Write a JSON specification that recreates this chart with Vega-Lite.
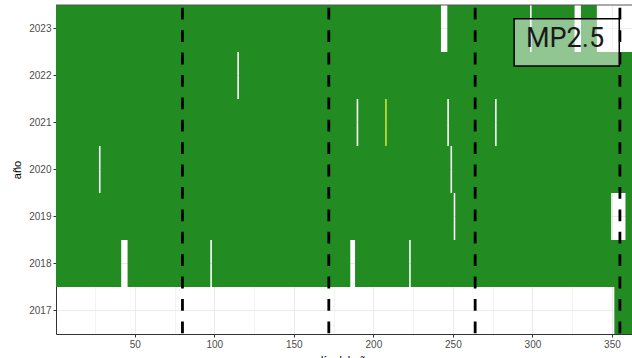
{
  "$schema": "https://vega.github.io/schema/vega-lite/v6.json",
  "autosize": {"type": "none"},
  "width": 576,
  "height": 329,
  "padding": {"left": 56, "top": 5, "right": 0, "bottom": 24},
  "background": "white",
  "config": {
    "view": {"stroke": null},
    "font": "Liberation Sans",
    "axis": {
      "labelColor": "#4d4d4d",
      "labelFontSize": 10,
      "labelFont": "Liberation Sans",
      "tickColor": "#333333",
      "tickSize": 3,
      "domainColor": "#333333",
      "gridColor": "#ebebeb",
      "titleColor": "#000000",
      "titleFontSize": 11,
      "titleFontWeight": "normal",
      "titleFont": "Liberation Sans",
      "zindex": 0
    }
  },
  "datasets": {
    "tramos": [
      {"anio": 2017, "desde": 351.5, "hasta": 365.5, "estado": "completo"},
      {"anio": 2018, "desde": 0.5, "hasta": 41.5, "estado": "completo"},
      {"anio": 2018, "desde": 45.5, "hasta": 97.5, "estado": "completo"},
      {"anio": 2018, "desde": 98.5, "hasta": 185.5, "estado": "completo"},
      {"anio": 2018, "desde": 188.5, "hasta": 222.5, "estado": "completo"},
      {"anio": 2018, "desde": 223.5, "hasta": 365.5, "estado": "completo"},
      {"anio": 2019, "desde": 0.5, "hasta": 250.5, "estado": "completo"},
      {"anio": 2019, "desde": 251.5, "hasta": 349.5, "estado": "completo"},
      {"anio": 2019, "desde": 358.5, "hasta": 365.5, "estado": "completo"},
      {"anio": 2020, "desde": 0.5, "hasta": 27.5, "estado": "completo"},
      {"anio": 2020, "desde": 28.5, "hasta": 248.5, "estado": "completo"},
      {"anio": 2020, "desde": 249.5, "hasta": 366.5, "estado": "completo"},
      {"anio": 2021, "desde": 0.5, "hasta": 189.5, "estado": "completo"},
      {"anio": 2021, "desde": 190.5, "hasta": 207.5, "estado": "completo"},
      {"anio": 2021, "desde": 207.5, "hasta": 208.5, "estado": "parcial"},
      {"anio": 2021, "desde": 208.5, "hasta": 246.5, "estado": "completo"},
      {"anio": 2021, "desde": 247.5, "hasta": 276.5, "estado": "completo"},
      {"anio": 2021, "desde": 277.5, "hasta": 365.5, "estado": "completo"},
      {"anio": 2022, "desde": 0.5, "hasta": 114.5, "estado": "completo"},
      {"anio": 2022, "desde": 115.5, "hasta": 365.5, "estado": "completo"},
      {"anio": 2023, "desde": 0.5, "hasta": 242.5, "estado": "completo"},
      {"anio": 2023, "desde": 246.5, "hasta": 298.5, "estado": "completo"},
      {"anio": 2023, "desde": 299.5, "hasta": 326.5, "estado": "completo"},
      {"anio": 2023, "desde": 330.5, "hasta": 340.5, "estado": "completo"}
    ],
    "estaciones": [
      {"dia": 80},
      {"dia": 172},
      {"dia": 264},
      {"dia": 355}
    ],
    "etiqueta": [
      {"texto": "MP2.5"}
    ]
  },
  "layer": [
    {
      "data": {"name": "tramos"},
      "mark": {"type": "rect", "clip": true},
      "encoding": {
        "x": {
          "field": "desde",
          "type": "quantitative",
          "scale": {"domain": [0.5, 362.6], "nice": false, "zero": false},
          "axis": {
            "title": "día del año",
            "values": [25, 50, 75, 100, 125, 150, 175, 200, 225, 250, 275, 300, 325, 350],
            "labelExpr": "datum.value % 50 === 0 ? datum.label : ''",
            "tickOpacity": {"condition": {"test": "datum.value % 50 !== 0", "value": 0}, "value": 1},
            "gridWidth": {"condition": {"test": "datum.value % 50 !== 0", "value": 0.6}, "value": 1.1},
            "grid": true,
            "domain": true,
            "labelPadding": 2,
            "titlePadding": 5,
            "zindex": 0
          }
        },
        "x2": {"field": "hasta"},
        "y": {
          "field": "anio",
          "type": "ordinal",
          "sort": "descending",
          "scale": {"paddingInner": 0, "paddingOuter": 0},
          "axis": {
            "title": "año",
            "grid": true,
            "gridWidth": 1.1,
            "bandPosition": 0.5,
            "labelPadding": 2,
            "titlePadding": 6,
            "zindex": 0
          }
        },
        "color": {
          "field": "estado",
          "type": "nominal",
          "scale": {"domain": ["completo", "parcial"], "range": ["#228B22", "#a8d010"]},
          "legend": null
        }
      }
    },
    {
      "data": {"name": "estaciones"},
      "mark": {"type": "rule", "color": "#000000", "strokeWidth": 2.8, "strokeDash": [11.8, 10.6], "strokeDashOffset": 19.6},
      "encoding": {
        "x": {"field": "dia", "type": "quantitative"},
        "y": {"datum": 2023.5, "type": "quantitative", "scale": {"domain": [2016.5, 2023.5], "nice": false, "zero": false}, "axis": null},
        "y2": {"datum": 2016.5}
      }
    },
    {
      "data": {"name": "etiqueta"},
      "mark": {"type": "rule", "color": "#555555", "strokeWidth": 1},
      "encoding": {
        "x": {"datum": 0.5, "type": "quantitative"},
        "x2": {"datum": 362.6},
        "y": {"datum": 2023.5, "type": "quantitative", "scale": {"domain": [2016.5, 2023.5], "nice": false, "zero": false}, "axis": null}
      }
    },
    {
      "data": {"name": "etiqueta"},
      "mark": {"type": "rect", "fill": "#ffffff", "fillOpacity": 0.5, "stroke": "#000000", "strokeWidth": 1.5},
      "encoding": {
        "x": {"datum": 288.5, "type": "quantitative"},
        "x2": {"datum": 354.6},
        "y": {"datum": 2023.21, "type": "quantitative", "scale": {"domain": [2016.5, 2023.5], "nice": false, "zero": false}, "axis": null},
        "y2": {"datum": 2022.2}
      }
    },
    {
      "data": {"name": "etiqueta"},
      "mark": {"type": "text", "font": "Roboto", "fontSize": 27, "color": "#1a1a1a", "align": "center", "baseline": "middle"},
      "encoding": {
        "text": {"field": "texto"},
        "x": {"datum": 320.5, "type": "quantitative"},
        "y": {"datum": 2022.77, "type": "quantitative", "scale": {"domain": [2016.5, 2023.5], "nice": false, "zero": false}, "axis": null}
      }
    }
  ],
  "resolve": {"scale": {"y": "independent"}, "axis": {"y": "independent"}}
}
